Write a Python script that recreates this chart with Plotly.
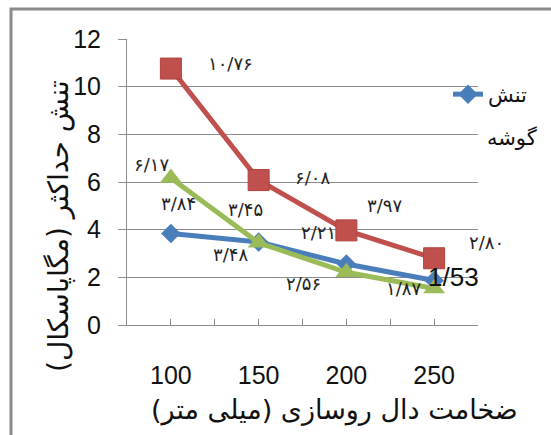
import plotly.graph_objects as go

# Slab thickness (mm) and maximum stress (MPa) for three loading positions
thickness = [100, 150, 200, 250]
stress_corner = [3.84, 3.48, 2.56, 1.87]
stress_edge = [10.76, 6.08, 3.97, 2.80]
stress_center = [6.17, 3.45, 2.21, 1.53]

legend_name = "تنش"
legend_name_2 = "گوشه"
x_title = "ضخامت دال روسازی (میلی متر)"
y_title = "تنش حداکثر (مگاپاسکال)"
y_ticks = [0, 2, 4, 6, 8, 10, 12]

W, H = 551, 435
L, R, T, B = 127, 73, 39, 110

BLUE = "#4A7EBB"
RED = "#C0504D"
GREEN = "#9BBB59"

PERSIAN = str.maketrans("0123456789.", "۰۱۲۳۴۵۶۷۸۹/")


def fa(v):
    return f"{v:.2f}".translate(PERSIAN)


def px_x(p):
    return (p - L) / (W - L - R)


def px_y(p):
    return (H - B - p) / (H - T - B)


fig = go.Figure()
fig.add_trace(go.Scatter(
    x=thickness, y=stress_corner, name=legend_name, mode="lines+markers",
    line=dict(color=BLUE, width=5),
    marker=dict(symbol="diamond", size=15, color=BLUE),
))
fig.add_trace(go.Scatter(
    x=thickness, y=stress_edge, name="edge", showlegend=False,
    mode="lines+markers", line=dict(color=RED, width=5),
    marker=dict(symbol="square", size=21, color=RED,
                line=dict(color="#B0403D", width=1)),
))
fig.add_trace(go.Scatter(
    x=thickness, y=stress_center, name="center", showlegend=False,
    mode="lines+markers", line=dict(color=GREEN, width=5),
    marker=dict(symbol="triangle-up", size=19, color=GREEN),
))

# value labels: pixel offsets from each point
label_font = dict(family="DejaVu Sans", size=18, color="#222222")
offsets = {
    "corner": [(8, -30), (-28, 12), (-43, 20), (-31, 8)],
    "edge": [(60, -5), (54, -3), (38, -25), (52, -16)],
    "center": [(-19, -13), (-13, -33), (-28, -40), (19, -12)],
}
series = {"corner": stress_corner, "edge": stress_edge, "center": stress_center}
for key, vals in series.items():
    for i, (xv, yv) in enumerate(zip(thickness, vals)):
        dx, dy = offsets[key][i]
        text = fa(yv)
        font = label_font
        if key == "center" and i == len(vals) - 1:
            text = f"{yv:.2f}".replace(".", "/")
            font = dict(family="Liberation Sans", size=26, color="#111111")
        fig.add_annotation(x=xv, y=yv, text=text, showarrow=False,
                           xshift=dx, yshift=-dy, font=font)

axis_grey = "#8c8c8c"
fig.update_xaxes(
    range=[75, 275], tickvals=thickness, ticktext=[str(t) for t in thickness],
    ticks="inside", ticklen=6, tickcolor=axis_grey,
    minor=dict(dtick=25, tick0=0, ticks="inside", ticklen=6, tickcolor=axis_grey),
    showline=True, linecolor=axis_grey, linewidth=1,
    showgrid=False, zeroline=False,
    tickfont=dict(family="Liberation Sans", size=25, color="#111111"),
    ticklabelstandoff=28,
)
fig.update_yaxes(
    range=[0, 12], tickvals=y_ticks, ticks="outside", ticklen=8,
    tickcolor=axis_grey, showline=True, linecolor=axis_grey, linewidth=1,
    showgrid=True, gridcolor=axis_grey, gridwidth=1, zeroline=False,
    tickfont=dict(family="Liberation Sans", size=25, color="#111111"),
    ticklabelstandoff=12,
)

fig.add_annotation(
    xref="paper", yref="paper", x=px_x(58), y=px_y(226),
    xanchor="center", yanchor="middle",
    text=y_title, textangle=-90, showarrow=False,
    font=dict(family="DejaVu Sans", size=28, color="#111111"),
)
fig.add_annotation(
    xref="paper", yref="paper", x=px_x(334), y=px_y(410),
    xanchor="center", yanchor="middle",
    text=x_title, showarrow=False,
    font=dict(family="DejaVu Sans", size=27, color="#111111"),
)
# second word of the legend entry
fig.add_annotation(
    xref="paper", yref="paper", x=px_x(512), y=px_y(138),
    xanchor="center", yanchor="middle",
    text=legend_name_2, showarrow=False,
    font=dict(family="DejaVu Sans", size=21, color="#111111"),
)

# outer frame (top and left edges visible)
fig.add_shape(
    type="rect", xref="paper", yref="paper",
    x0=px_x(11), x1=px_x(W + 20), y0=px_y(H + 20), y1=px_y(9),
    line=dict(color="#8a8a8a", width=3),
)

fig.update_layout(
    width=W, height=H, margin=dict(l=L, r=R, t=T, b=B),
    paper_bgcolor="white", plot_bgcolor="white",
    showlegend=True,
    legend=dict(x=px_x(448), y=px_y(74),
                xanchor="left", yanchor="top", valign="top",
                bgcolor="rgba(0,0,0,0)",
                font=dict(family="DejaVu Sans", size=21, color="#111111")),
)

fig.write_html("out.html")
